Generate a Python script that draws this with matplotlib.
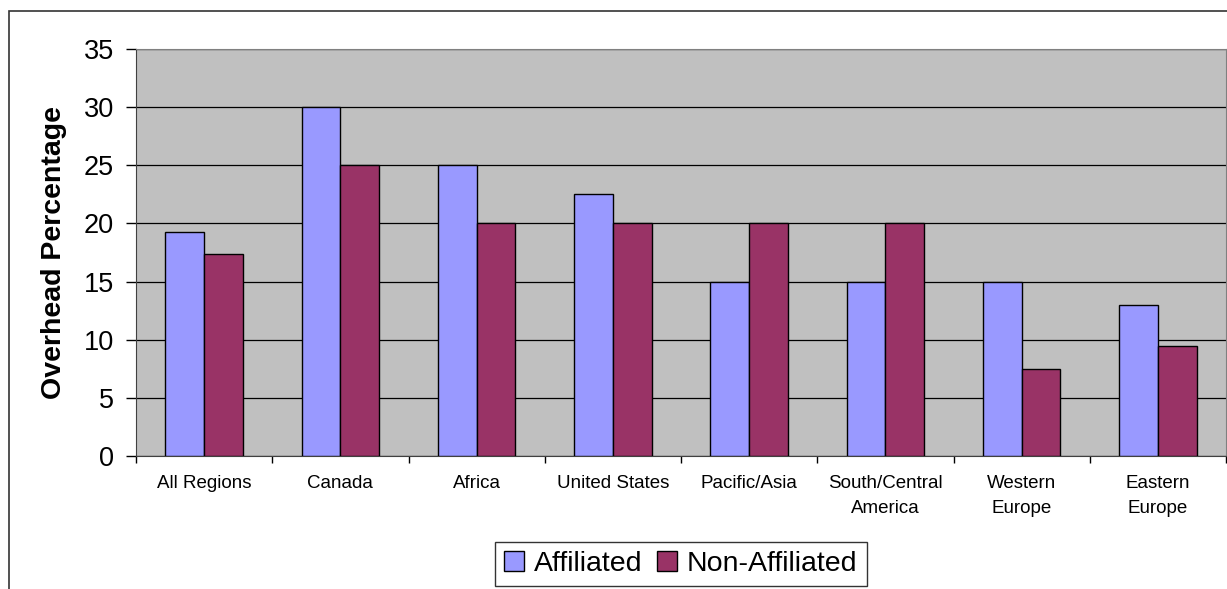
import matplotlib.pyplot as plt
import numpy as np
from matplotlib.patches import Rectangle

plt.rcParams['font.family'] = ['Liberation Sans', 'DejaVu Sans']

regions = ['All Regions', 'Canada', 'Africa', 'United States', 'Pacific/Asia',
           'South/Central\nAmerica', 'Western\nEurope', 'Eastern\nEurope']
affiliated = [19.3, 30, 25, 22.5, 15, 15, 15, 13]
non_affiliated = [17.4, 25, 20, 20, 20, 20, 7.5, 9.5]

W, H = 1227, 589
fig = plt.figure(figsize=(W / 100, H / 100), dpi=100)
# plot area in pixels: x 136..1226, y 49..456
ax = fig.add_axes([136 / W, 1 - 456 / H, 1090 / W, 407 / H])
ax.set_facecolor('#C0C0C0')

x = np.arange(len(regions))
bw = 0.285
ax.bar(x - bw / 2, affiliated, bw, color='#9999FF', edgecolor='black', linewidth=1.0,
       label='Affiliated', zorder=3)
ax.bar(x + bw / 2, non_affiliated, bw, color='#993366', edgecolor='black', linewidth=1.0,
       label='Non-Affiliated', zorder=3)

ax.set_xlim(-0.5, len(regions) - 0.5)
ax.set_ylim(0, 35)
ax.set_yticks(range(0, 36, 5))
ax.tick_params(axis='y', labelsize=19.5, length=7, width=1, direction='out', pad=9)
ax.yaxis.grid(True, color='black', linewidth=0.9, zorder=1)
ax.set_axisbelow(True)

# category labels centred, ticks at boundaries
ax.set_xticks(x)
ax.set_xticklabels(regions, fontsize=13.5, linespacing=1.6)
ax.tick_params(axis='x', length=0, pad=14)
ax.set_xticks(np.arange(-0.5, len(regions), 1), minor=True)
ax.tick_params(axis='x', which='minor', length=5, width=1, direction='out')

ax.set_ylabel('Overhead Percentage', fontsize=20.5, fontweight='bold', labelpad=12)

for side in ['top', 'right']:
    ax.spines[side].set_color('#808080')
ax.spines['left'].set_color('#404040')
ax.spines['bottom'].set_color('#404040')

leg = ax.legend(loc='upper center', bbox_to_anchor=(0.5, -0.211), ncol=2, fontsize=20.5,
                frameon=True, fancybox=False, edgecolor='black', handlelength=0.7,
                handleheight=0.7, handletextpad=0.35, columnspacing=0.5,
                borderpad=0.32, borderaxespad=0)
leg.get_frame().set_linewidth(1.0)

# outer chart border
fig.patches.append(Rectangle((8.5 / W, -0.05), 1.1, 1 - 11 / H + 0.05,
                             transform=fig.transFigure, fill=False,
                             edgecolor='#333333', linewidth=1.2))

fig.savefig('out.png', dpi=100)
